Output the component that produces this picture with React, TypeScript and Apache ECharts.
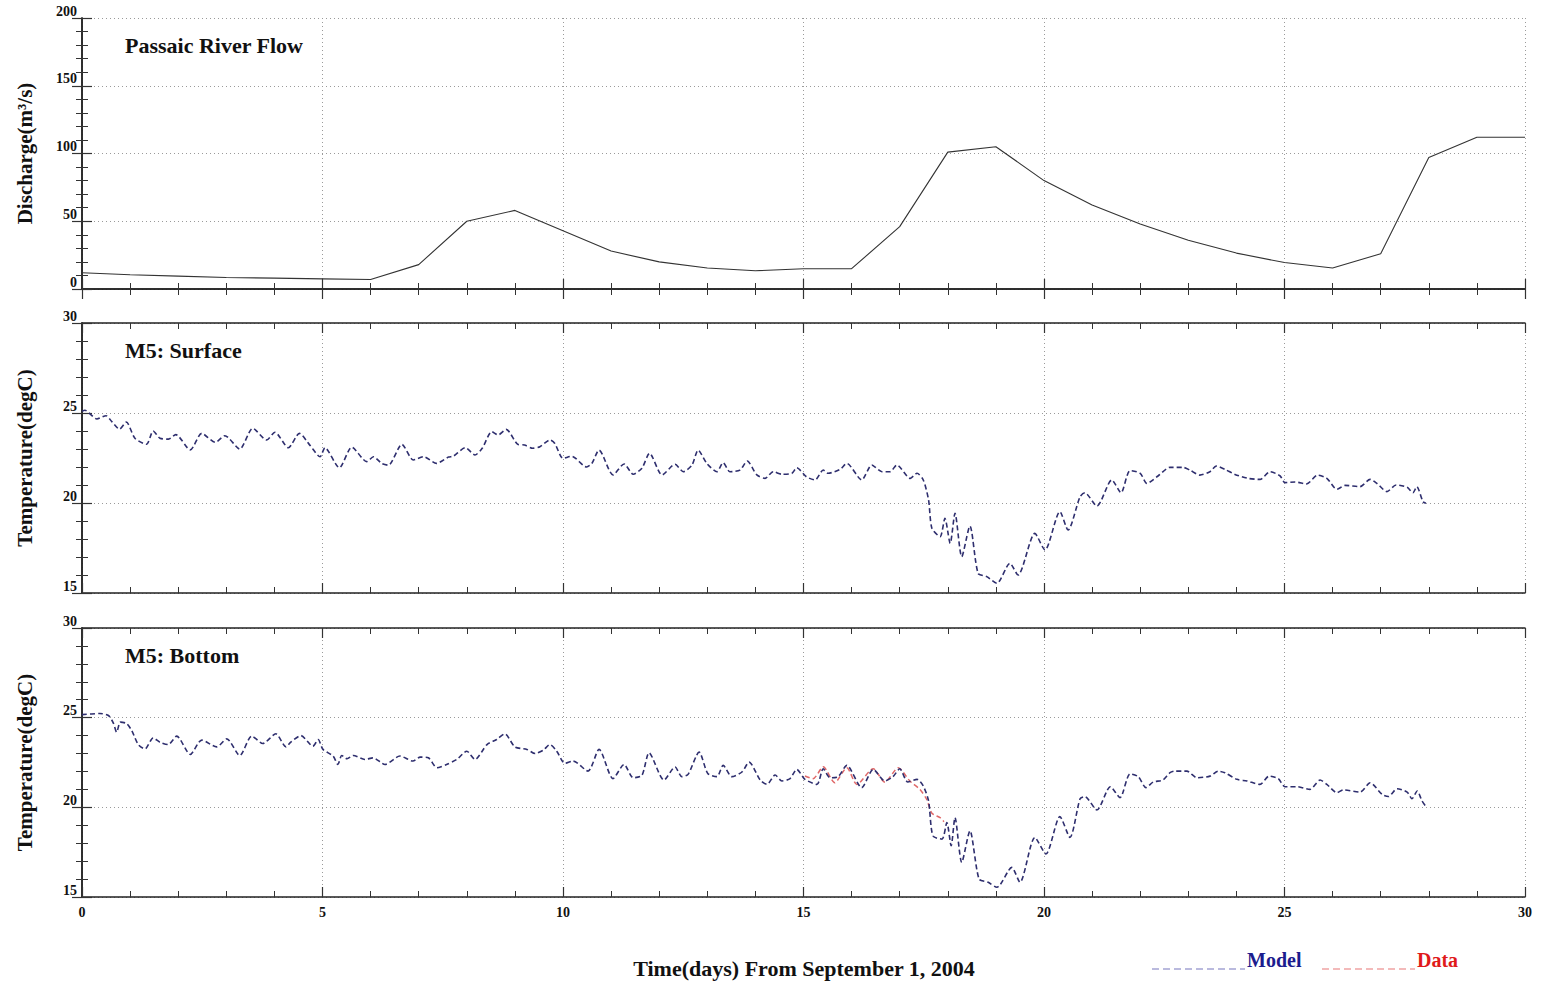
import React, { useEffect, useRef } from "react";
import * as echarts from "echarts";

// ---------- DATA ----------
const dischargeDays = [0, 1, 2, 3, 4, 5, 6, 7, 8, 9, 10, 11, 12, 13, 14, 15, 16, 17, 18, 19, 20, 21, 22, 23, 24, 25, 26, 27, 28, 29, 30];
const dischargeValues = [12, 10.5, 9.5, 8.5, 8, 7.5, 7, 18, 50, 58, 43, 28, 20, 15.5, 13.5, 15, 15, 46, 101, 105, 80, 62, 48, 36, 26.5, 19.5, 15.5, 26, 97, 112, 112];

const surfaceDays = [0, 0.06, 0.31, 0.5, 0.62, 0.78, 0.92, 1.1, 1.34, 1.48, 1.62, 1.8, 1.95, 2.25, 2.49, 2.77, 2.97, 3.28, 3.55, 3.84, 4.01, 4.29, 4.52, 4.74, 4.95, 5.05, 5.35, 5.61, 5.92, 6.06, 6.23, 6.37, 6.65, 6.89, 7.1, 7.37, 7.62, 7.72, 7.97, 8.17, 8.32, 8.52, 8.65, 8.82, 9.06, 9.2, 9.37, 9.52, 9.73, 9.83, 10.0, 10.18, 10.49, 10.6, 10.75, 11.04, 11.27, 11.46, 11.64, 11.8, 12.06, 12.33, 12.5, 12.68, 12.81, 12.99, 13.2, 13.33, 13.47, 13.68, 13.83, 14.03, 14.2, 14.37, 14.55, 14.76, 14.86, 15.06, 15.24, 15.41, 15.51, 15.76, 15.9, 16.21, 16.42, 16.63, 16.8, 16.94, 17.22, 17.36, 17.49, 17.6, 17.67, 17.84, 17.94, 18.05, 18.15, 18.29, 18.46, 18.63, 18.81, 19.02, 19.29, 19.46, 19.81, 20.02, 20.33, 20.5, 20.75, 20.85, 21.1, 21.41, 21.6, 21.79, 22.0, 22.14, 22.37, 22.62, 22.89, 23.03, 23.24, 23.45, 23.58, 23.76, 23.97, 24.24, 24.49, 24.7, 24.91, 25.01, 25.22, 25.46, 25.69, 25.88, 26.09, 26.26, 26.57, 26.78, 26.92, 27.13, 27.32, 27.55, 27.67, 27.75, 27.88, 27.94];
const surfaceTemp = [25.1, 25.15, 24.67, 24.85, 24.52, 24.1, 24.5, 23.6, 23.26, 24.0, 23.6, 23.55, 23.8, 22.95, 23.87, 23.37, 23.74, 23.0, 24.15, 23.5, 23.93, 23.07, 23.87, 23.2, 22.57, 23.07, 21.96, 23.1, 22.3, 22.57, 22.2, 22.1, 23.26, 22.39, 22.57, 22.2, 22.55, 22.6, 23.07, 22.67, 23.04, 23.96, 23.78, 24.09, 23.26, 23.22, 23.04, 23.13, 23.5, 23.31, 22.48, 22.6, 22.0, 22.2, 22.94, 21.56, 22.17, 21.6, 21.93, 22.76, 21.56, 22.15, 21.74, 22.1, 22.94, 22.2, 21.74, 22.24, 21.74, 21.83, 22.33, 21.56, 21.37, 21.74, 21.6, 21.65, 21.96, 21.46, 21.28, 21.83, 21.65, 21.87, 22.2, 21.28, 22.11, 21.74, 21.74, 22.11, 21.37, 21.65, 21.28, 20.17, 18.59, 18.13, 19.15, 17.76, 19.43, 17.02, 18.72, 16.09, 15.91, 15.54, 16.65, 16.0, 18.31, 17.39, 19.52, 18.5, 20.35, 20.57, 19.83, 21.28, 20.57, 21.8, 21.65, 21.09, 21.5, 21.98, 21.98, 21.83, 21.55, 21.74, 22.05, 21.87, 21.59, 21.37, 21.31, 21.74, 21.5, 21.13, 21.17, 21.06, 21.55, 21.37, 20.76, 20.98, 20.91, 21.31, 21.09, 20.63, 21.0, 20.87, 20.57, 20.91, 20.07, 19.98];

const bottomDays = [0, 0.37, 0.55, 0.65, 0.72, 0.8, 0.93, 1.04, 1.17, 1.31, 1.48, 1.62, 1.79, 1.97, 2.25, 2.49, 2.8, 3.01, 3.28, 3.53, 3.76, 4.03, 4.24, 4.34, 4.55, 4.8, 4.91, 5.01, 5.22, 5.32, 5.4, 5.51, 5.64, 5.88, 6.05, 6.3, 6.61, 6.88, 7.03, 7.2, 7.38, 7.58, 7.79, 8.0, 8.17, 8.42, 8.62, 8.79, 9.0, 9.25, 9.42, 9.59, 9.73, 9.87, 10.04, 10.21, 10.52, 10.75, 11.04, 11.27, 11.46, 11.64, 11.79, 12.1, 12.33, 12.47, 12.6, 12.83, 13.01, 13.2, 13.33, 13.51, 13.72, 13.87, 14.1, 14.24, 14.41, 14.55, 14.72, 14.86, 15.03, 15.28, 15.41, 15.55, 15.72, 15.9, 16.21, 16.45, 16.69, 16.86, 17.0, 17.17, 17.36, 17.49, 17.6, 17.69, 17.88, 17.98, 18.07, 18.15, 18.29, 18.46, 18.65, 18.84, 19.02, 19.33, 19.5, 19.81, 20.04, 20.33, 20.54, 20.75, 20.85, 21.1, 21.38, 21.58, 21.79, 21.96, 22.12, 22.27, 22.47, 22.62, 22.72, 22.97, 23.18, 23.45, 23.62, 23.76, 24.01, 24.22, 24.49, 24.68, 24.87, 25.01, 25.26, 25.53, 25.74, 25.88, 26.09, 26.22, 26.57, 26.78, 27.03, 27.16, 27.34, 27.55, 27.65, 27.76, 27.86, 27.96];
const bottomTemp = [25.17, 25.23, 25.12, 24.71, 24.19, 24.75, 24.67, 24.25, 23.5, 23.26, 23.87, 23.63, 23.5, 23.97, 22.95, 23.75, 23.37, 23.82, 22.89, 23.97, 23.56, 24.1, 23.37, 23.63, 24.0, 23.41, 23.78, 23.23, 22.86, 22.39, 22.89, 22.71, 22.89, 22.67, 22.76, 22.39, 22.86, 22.58, 22.8, 22.76, 22.21, 22.39, 22.67, 23.13, 22.67, 23.5, 23.78, 24.1, 23.37, 23.23, 23.0, 23.19, 23.5, 23.13, 22.45, 22.58, 22.02, 23.23, 21.6, 22.39, 21.65, 21.78, 23.04, 21.52, 22.25, 21.71, 21.84, 23.08, 21.89, 21.71, 22.34, 21.71, 21.97, 22.52, 21.52, 21.28, 21.8, 21.47, 21.6, 22.12, 21.56, 21.28, 22.15, 21.65, 21.71, 22.34, 21.1, 22.12, 21.47, 21.71, 22.15, 21.41, 21.56, 21.19, 20.36, 18.41, 18.23, 19.15, 17.86, 19.43, 16.93, 18.69, 16.0, 15.82, 15.54, 16.65, 15.82, 18.32, 17.4, 19.48, 18.32, 20.48, 20.6, 19.85, 21.15, 20.54, 21.87, 21.71, 21.1, 21.41, 21.52, 21.93, 22.02, 22.02, 21.65, 21.74, 22.02, 21.93, 21.56, 21.47, 21.28, 21.74, 21.6, 21.15, 21.15, 21.0, 21.52, 21.28, 20.82, 20.97, 20.85, 21.37, 20.72, 20.6, 21.04, 20.85, 20.48, 20.91, 20.35, 19.98];

const dataDays = [15.03, 15.2, 15.41, 15.65, 15.9, 16.11, 16.45, 16.69, 16.97, 17.21, 17.42, 17.56, 17.67, 17.84, 17.92];
const dataTemp = [21.75, 21.6, 22.26, 21.37, 22.21, 21.28, 22.15, 21.41, 22.21, 21.47, 21.0, 20.45, 19.67, 19.43, 19.2];

const xTicks = { min: 0, max: 30, interval: 5 };
const panelTitles = ["Passaic River Flow", "M5: Surface", "M5: Bottom"];
const yNames = ["Discharge(m³/s)", "Temperature(degC)", "Temperature(degC)"];
const xTitle = "Time(days) From September 1, 2004";
const legendNames = ["Model", "Data"];

// ---------- STYLE ----------
const FONT = "'Liberation Serif', 'Times New Roman', serif";
const GRIDS = [
  { left: 82, top: 18, width: 1443, height: 271 },
  { left: 82, top: 323, width: 1443, height: 270 },
  { left: 82, top: 628, width: 1443, height: 269 },
];
const Y_RANGES = [
  { min: 0, max: 200, interval: 50 },
  { min: 15, max: 30, interval: 5 },
  { min: 15, max: 30, interval: 5 },
];
const MODEL_COLOR = "#2e2e6e";
const DATA_COLOR = "#e06868";

const pairs = (xs: number[], ys: number[]) => xs.map((x, i) => [x, ys[i]]);

export default function App() {
  const ref = useRef<HTMLDivElement>(null);
  useEffect(() => {
    if (!ref.current) return;
    const chart = echarts.init(ref.current, null, { renderer: "svg" });

    const axisLine = { show: true, lineStyle: { color: "#222", width: 1.5 } };
    const splitLine = { show: true, lineStyle: { color: "#9a9a9a", type: [1, 3] as any, width: 1 } };
    const xAxes: any[] = [];
    const yAxes: any[] = [];
    GRIDS.forEach((_, i) => {
      const common = {
        gridIndex: i,
        type: "value",
        min: xTicks.min,
        max: xTicks.max,
        interval: xTicks.interval,
        axisLine,
        axisTick: { show: true, inside: true, length: 10, lineStyle: { color: "#333", width: 1.2 } },
        minorTick: { show: true, splitNumber: 5, length: 6, lineStyle: { color: "#333", width: 1 } },
      };
      xAxes.push({
        ...common,
        position: "bottom",
        splitLine,
        axisLabel: {
          show: i === 2,
          margin: 8,
          fontFamily: FONT,
          fontWeight: "bold",
          fontSize: 14,
          color: "#111",
        },
      });
      xAxes.push({ ...common, position: "top", splitLine: { show: false }, axisLabel: { show: false } });

      const yr = Y_RANGES[i];
      const ycommon = {
        gridIndex: i,
        type: "value",
        min: yr.min,
        max: yr.max,
        interval: yr.interval,
        axisLine,
        axisTick: { show: true, inside: true, length: 10, lineStyle: { color: "#333", width: 1.2 } },
        minorTick: { show: true, splitNumber: 5, length: 6, lineStyle: { color: "#333", width: 1 } },
      };
      yAxes.push({
        ...ycommon,
        position: "left",
        splitLine,
        name: yNames[i],
        nameLocation: "middle",
        nameGap: 47,
        nameTextStyle: { fontFamily: FONT, fontWeight: "bold", fontSize: 21, color: "#111" },
        axisLabel: {
          margin: 5,
          verticalAlign: "bottom",
          fontFamily: FONT,
          fontWeight: "bold",
          fontSize: 14,
          color: "#111",
        },
      });
      yAxes.push({ ...ycommon, position: "right", splitLine: { show: false }, axisLabel: { show: false } });
    });

    const option: any = {
      animation: false,
      backgroundColor: "#ffffff",
      grid: GRIDS.map((g) => ({ ...g, containLabel: false })),
      xAxis: xAxes,
      yAxis: yAxes,
      series: [
        {
          type: "line",
          name: "Discharge",
          xAxisIndex: 0,
          yAxisIndex: 0,
          data: pairs(dischargeDays, dischargeValues),
          symbol: "none",
          lineStyle: { color: "#333", width: 1.1 },
        },
        {
          type: "line",
          name: "Model surface",
          xAxisIndex: 2,
          yAxisIndex: 2,
          data: pairs(surfaceDays, surfaceTemp),
          symbol: "none",
          smooth: 0.25,
          lineStyle: { color: MODEL_COLOR, width: 1.6, type: [5, 3] },
        },
        {
          type: "line",
          name: "Data bottom",
          xAxisIndex: 4,
          yAxisIndex: 4,
          data: pairs(dataDays, dataTemp),
          symbol: "none",
          smooth: 0.25,
          lineStyle: { color: DATA_COLOR, width: 1.5, type: [5, 3] },
        },
        {
          type: "line",
          name: "Model bottom",
          xAxisIndex: 4,
          yAxisIndex: 4,
          data: pairs(bottomDays, bottomTemp),
          symbol: "none",
          smooth: 0.25,
          lineStyle: { color: MODEL_COLOR, width: 1.6, type: [5, 3] },
        },
      ],
      graphic: [
        ...panelTitles.map((t, i) => ({
          type: "text",
          x: 125,
          y: GRIDS[i].top + 27,
          style: {
            text: t,
            fontFamily: FONT,
            fontWeight: "bold",
            fontSize: 22,
            fill: "#111",
            textVerticalAlign: "middle",
          },
        })),
        {
          type: "text",
          x: 804,
          y: 968,
          style: {
            text: xTitle,
            fontFamily: FONT,
            fontWeight: "bold",
            fontSize: 22,
            fill: "#111",
            textAlign: "center",
            textVerticalAlign: "middle",
          },
        },
        {
          type: "line",
          shape: { x1: 1152, y1: 969, x2: 1245, y2: 969 },
          style: { stroke: "#a4a4d4", lineWidth: 1.5, lineDash: [7, 4] },
        },
        {
          type: "text",
          x: 1247,
          y: 960,
          style: {
            text: legendNames[0],
            fontFamily: FONT,
            fontWeight: "bold",
            fontSize: 20,
            fill: "#1c1c8e",
            textVerticalAlign: "middle",
          },
        },
        {
          type: "line",
          shape: { x1: 1322, y1: 969, x2: 1415, y2: 969 },
          style: { stroke: "#f0a4a4", lineWidth: 1.5, lineDash: [7, 4] },
        },
        {
          type: "text",
          x: 1417,
          y: 960,
          style: {
            text: legendNames[1],
            fontFamily: FONT,
            fontWeight: "bold",
            fontSize: 20,
            fill: "#e01a1a",
            textVerticalAlign: "middle",
          },
        },
      ],
    };
    chart.setOption(option);
    return () => chart.dispose();
  }, []);

  return (
    <div
      ref={ref}
      style={{ position: "fixed", left: 0, top: 0, width: 1543, height: 988, background: "#fff" }}
    />
  );
}
